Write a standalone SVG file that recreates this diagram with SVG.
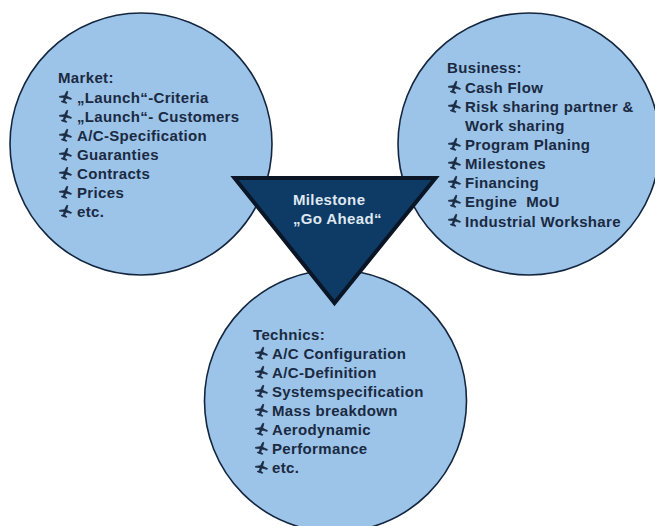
<svg xmlns="http://www.w3.org/2000/svg" width="655" height="526" viewBox="0 0 655 526">
<style>
.c{fill:#9cc3e8;stroke:#14263f;stroke-width:1.6}
.t{font:bold 15px "Liberation Sans",Arial,sans-serif;letter-spacing:.35px;fill:#1a2a42}
.m{font:bold 15px "Liberation Sans",Arial,sans-serif;letter-spacing:.35px;fill:#dfe8f0}
</style>
<defs>
<symbol id="p" viewBox="0 0 14 14" overflow="visible">
<path d="M9.5 .5 L8.2 5.6 L13.5 8.2 L13 9 L7.6 7.6 L6 10.8 L8.4 12.6 L8 13.3 L2.6 11.6 L2.8 10.9 L4.6 10.8 L5.6 7 L.5 6.6 L.5 5.8 L6 5 L8.4 .4 Z" fill="#1a2a42" stroke="#1a2a42" stroke-width=".9" stroke-linejoin="round"/>
</symbol>
</defs>
<rect width="655" height="526" fill="#fff"/>
<g id="market">
<circle class="c" cx="141" cy="144" r="131"/>
<text class="t" x="58" y="83">Market:</text>
<use href="#p" x="59" y="91" width="13" height="13"/><text class="t" x="77" y="102.500">„Launch“-Criteria</text>
<use href="#p" x="59" y="110" width="13" height="13"/><text class="t" x="77" y="121.500">„Launch“- Customers</text>
<use href="#p" x="59" y="129" width="13" height="13"/><text class="t" x="77" y="140.500">A/C-Specification</text>
<use href="#p" x="59" y="148" width="13" height="13"/><text class="t" x="77" y="159.500">Guaranties</text>
<use href="#p" x="59" y="167" width="13" height="13"/><text class="t" x="77" y="178.500">Contracts</text>
<use href="#p" x="59" y="186" width="13" height="13"/><text class="t" x="77" y="197.500">Prices</text>
<use href="#p" x="59" y="205" width="13" height="13"/><text class="t" x="77" y="216.500">etc.</text>
</g>
<g id="business">
<circle class="c" cx="529" cy="144" r="131"/>
<text class="t" x="447" y="73">Business:</text>
<use href="#p" x="448" y="81" width="13" height="13"/><text class="t" x="465" y="92.500">Cash Flow</text>
<use href="#p" x="448" y="100" width="13" height="13"/><text class="t" x="465" y="111.500">Risk sharing partner &amp;</text>
<text class="t" x="465" y="131">Work sharing</text>
<use href="#p" x="448" y="138" width="13" height="13"/><text class="t" x="465" y="150">Program Planing</text>
<use href="#p" x="448" y="157" width="13" height="13"/><text class="t" x="465" y="169">Milestones</text>
<use href="#p" x="448" y="176" width="13" height="13"/><text class="t" x="465" y="188">Financing</text>
<use href="#p" x="448" y="195" width="13" height="13"/><text class="t" x="465" y="207" xml:space="preserve">Engine  MoU</text>
<use href="#p" x="448" y="214" width="13" height="13"/><text class="t" x="465" y="226.500">Industrial Workshare</text>
</g>
<g id="technics">
<circle class="c" cx="335.500" cy="401" r="131"/>
<text class="t" x="253" y="340">Technics:</text>
<use href="#p" x="255" y="347" width="13" height="13"/><text class="t" x="272" y="359">A/C Configuration</text>
<use href="#p" x="255" y="366" width="13" height="13"/><text class="t" x="272" y="378">A/C-Definition</text>
<use href="#p" x="255" y="385" width="13" height="13"/><text class="t" x="272" y="397">Systemspecification</text>
<use href="#p" x="255" y="404" width="13" height="13"/><text class="t" x="272" y="416">Mass breakdown</text>
<use href="#p" x="255" y="423" width="13" height="13"/><text class="t" x="272" y="435">Aerodynamic</text>
<use href="#p" x="255" y="442" width="13" height="13"/><text class="t" x="272" y="454">Performance</text>
<use href="#p" x="255" y="461" width="13" height="13"/><text class="t" x="272" y="473">etc.</text>
</g>
<g id="milestone">
<polygon points="234.500,178 435.500,178 334.500,303" fill="#0e3a66" stroke="#0a1626" stroke-width="4"/>
<text class="m" x="293" y="205">Milestone</text>
<text class="m" x="293" y="224">„Go Ahead“</text>
</g>
<g id="connectors"/>
</svg>
